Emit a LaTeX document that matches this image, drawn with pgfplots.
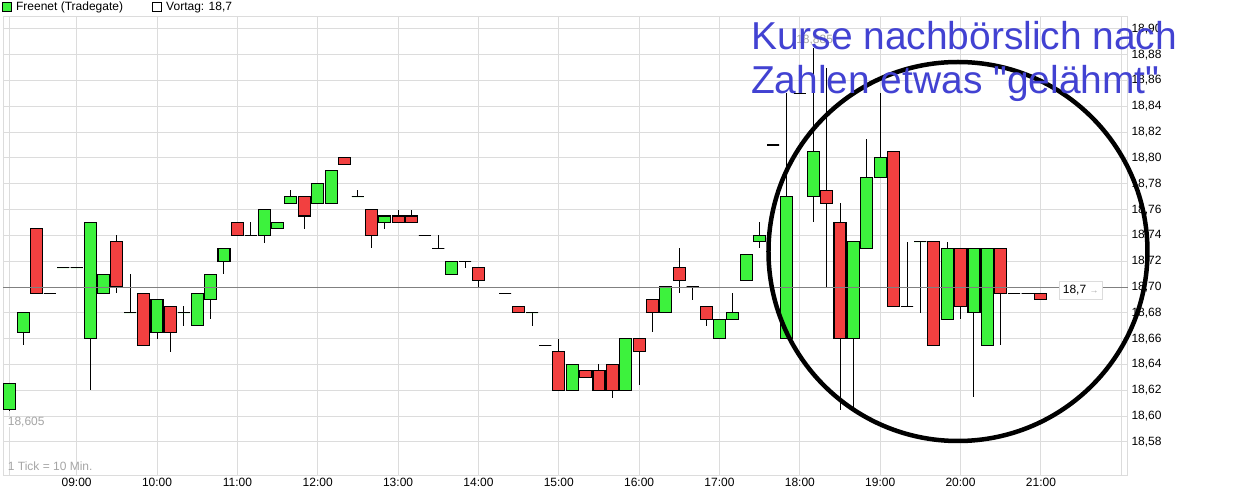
\documentclass[border=0pt]{standalone}
\usepackage{pgfplots}
\pgfplotsset{compat=1.18}
\usepackage{pgfplotstable}
\usepgfplotslibrary{statistics}
\usepackage{fontspec}
\setmainfont{Liberation Sans}
\newfontfamily\annfont{Liberation Sans}[Ligatures=TeXOff]
\definecolor{cgreen}{RGB}{61,242,61}
\definecolor{cred}{RGB}{242,64,64}
\definecolor{gridgray}{RGB}{220,220,220}
\definecolor{refgray}{RGB}{128,128,128}
\definecolor{txtgray}{RGB}{165,165,165}
\definecolor{annblue}{RGB}{66,66,210}

% slot t = 10-minute period, t=0 -> 08:10, t=5 -> 09:00, ..., t=77 -> 21:00
\pgfplotstableread{
t o h l c
0 18.605 18.625 18.604 18.625
1 18.665 18.68 18.655 18.68
2 18.745 18.745 18.695 18.695
3 18.695 18.695 18.695 18.695
4 18.715 18.715 18.715 18.715
5 18.715 18.715 18.715 18.715
6 18.66 18.75 18.62 18.75
7 18.695 18.71 18.695 18.71
8 18.735 18.74 18.695 18.70
9 18.68 18.71 18.68 18.68
10 18.695 18.695 18.655 18.655
11 18.665 18.69 18.66 18.69
12 18.685 18.685 18.65 18.665
13 18.68 18.685 18.67 18.68
14 18.67 18.695 18.67 18.695
15 18.69 18.71 18.675 18.71
16 18.72 18.73 18.71 18.73
17 18.75 18.75 18.74 18.74
18 18.74 18.75 18.74 18.74
19 18.74 18.76 18.734 18.76
20 18.745 18.75 18.745 18.75
21 18.765 18.775 18.765 18.77
22 18.77 18.77 18.745 18.755
23 18.765 18.78 18.765 18.78
24 18.765 18.79 18.765 18.79
25 18.80 18.80 18.795 18.795
26 18.77 18.775 18.77 18.77
27 18.76 18.76 18.73 18.74
28 18.75 18.755 18.745 18.755
29 18.755 18.76 18.75 18.75
30 18.755 18.76 18.75 18.75
31 18.74 18.74 18.74 18.74
32 18.73 18.74 18.73 18.73
33 18.71 18.72 18.71 18.72
34 18.72 18.72 18.715 18.72
35 18.715 18.715 18.70 18.705
37 18.695 18.695 18.695 18.695
38 18.685 18.685 18.68 18.68
39 18.68 18.68 18.67 18.68
40 18.655 18.655 18.655 18.655
41 18.65 18.66 18.62 18.62
42 18.62 18.64 18.62 18.64
43 18.635 18.635 18.63 18.63
44 18.635 18.64 18.62 18.62
45 18.64 18.64 18.614 18.62
46 18.62 18.66 18.62 18.66
47 18.66 18.66 18.624 18.65
48 18.69 18.69 18.665 18.68
49 18.68 18.70 18.68 18.70
50 18.715 18.73 18.695 18.705
51 18.70 18.70 18.69 18.70
52 18.685 18.685 18.67 18.675
53 18.66 18.675 18.66 18.675
54 18.675 18.695 18.675 18.68
55 18.705 18.725 18.705 18.725
56 18.735 18.75 18.73 18.74
57 18.81 18.81 18.81 18.81
58 18.66 18.85 18.66 18.77
59 18.85 18.85 18.85 18.85
60 18.77 18.885 18.75 18.805
61 18.775 18.87 18.70 18.765
62 18.75 18.765 18.605 18.66
63 18.66 18.735 18.604 18.735
64 18.73 18.815 18.73 18.785
65 18.785 18.85 18.785 18.80
66 18.805 18.805 18.685 18.685
67 18.685 18.735 18.685 18.685
68 18.735 18.735 18.68 18.735
69 18.735 18.735 18.655 18.655
70 18.675 18.735 18.675 18.73
71 18.73 18.73 18.675 18.685
72 18.68 18.73 18.615 18.73
73 18.655 18.73 18.655 18.73
74 18.73 18.73 18.655 18.695
75 18.695 18.695 18.695 18.695
76 18.695 18.695 18.695 18.695
77 18.695 18.695 18.69 18.69
}\candles
\pgfplotstablegetrowsof{\candles}
\pgfmathtruncatemacro\lastrow{\pgfplotsretval-1}

\begin{document}
\begin{tikzpicture}
\useasboundingbox (0,0) rectangle (1235pt,500pt);
\begin{axis}[
  clip=false,
  at={(3pt,24pt)}, anchor=south west,
  scale only axis, width=1125pt, height=459pt,
  xmin=-0.5, xmax=83.5, ymin=18.5536, ymax=18.9092,
  axis line style={gridgray, line width=1pt},
  grid=major, major grid style={gridgray, line width=1pt},
  xtick={5,11,...,83},
  xticklabels={09:00,10:00,11:00,12:00,13:00,14:00,15:00,16:00,17:00,18:00,19:00,20:00,21:00,{}},
  extra x ticks={0}, extra x tick labels={}, extra x tick style={grid=major},
  ytick={18.58,18.60,18.62,18.64,18.66,18.68,18.70,18.72,18.74,18.76,18.78,18.80,18.82,18.84,18.86,18.88,18.90},
  scaled y ticks=false,
  yticklabel pos=right,
  y tick label style={/pgf/number format/.cd, fixed, fixed zerofill, precision=2, use comma, 1000 sep={}, assume math mode=true},
  tick label style={font=\fontsize{12}{14}\selectfont, text=black},
  xticklabel style={yshift=1.5pt},
  major tick length=0pt,
  boxplot/draw direction=y,
  candle/.style={solid, draw=black, line width=1.1pt,
    boxplot/whisker extend=0, boxplot/box extend=0.896,
    boxplot/every whisker/.style={black, line width=1pt},
    boxplot/every median/.style={black, line width=1.1pt}},
  legend columns=2,
  legend style={at={(0,1)}, anchor=south west, xshift=-1.3pt, yshift=5pt,
    draw=none, fill=none, inner sep=0pt, nodes={inner sep=0pt},
    font=\fontsize{12}{14}\selectfont,
    /tikz/every odd column/.append style={column sep=4pt},
    /tikz/every even column/.append style={column sep=29pt}},
  legend image code/.code={\draw[#1, line width=0.8pt] (0pt,-4.6pt) rectangle (9.4pt,4.6pt);},
]
\addlegendimage{draw=black, fill=cgreen}
\addlegendentry{Freenet (Tradegate)}
\addlegendimage{draw=black, fill=white}
\addlegendentry{Vortag: 18,7}

\pgfplotsinvokeforeach{0,...,\lastrow}{%
  \pgfplotstablegetelem{#1}{t}\of\candles \let\cndT\pgfplotsretval
  \pgfplotstablegetelem{#1}{o}\of\candles \let\cndO\pgfplotsretval
  \pgfplotstablegetelem{#1}{h}\of\candles \let\cndH\pgfplotsretval
  \pgfplotstablegetelem{#1}{l}\of\candles \let\cndL\pgfplotsretval
  \pgfplotstablegetelem{#1}{c}\of\candles \let\cndC\pgfplotsretval
  \ifdim\cndC pt<\cndO pt
    \def\cndCol{cred}\let\cndBot\cndC \let\cndTop\cndO
  \else
    \def\cndCol{cgreen}\let\cndBot\cndO \let\cndTop\cndC
  \fi
  \edef\doplot{\noexpand\addplot[forget plot, candle,
     boxplot/every box/.style={draw=black, fill=\cndCol, line width=1.1pt},
     boxplot prepared={draw position=\cndT, lower whisker=\cndL,
       lower quartile=\cndBot, median=\cndTop, upper quartile=\cndTop,
       upper whisker=\cndH}] coordinates {};}%
  \doplot
}

% Vortag reference line
\addplot[forget plot, refgray, line width=1pt] coordinates {(-0.5,18.70) (83.5,18.70)};

\node[draw=gridgray, fill=white, inner sep=4pt, font=\fontsize{12}{14}\selectfont]
  at (axis cs:79.97,18.6977) {18,7 \textcolor{txtgray}{\fontsize{9}{9}\selectfont →}};
\node[anchor=west, inner sep=0pt, fill=white, text=txtgray, font=\fontsize{12}{14}\selectfont]
  at (axis cs:-0.15,18.5956) {18,605};
\node[inner sep=0pt, text=txtgray, font=\fontsize{12}{14}\selectfont]
  at (axis cs:60.1,18.891) {18,885};
\node[anchor=west, inner sep=0pt, text=txtgray, font=\fontsize{12}{14}\selectfont]
  at (axis cs:-0.15,18.5608) {1 Tick = 10 Min.};

\draw[black, line width=4.5pt] (rel axis cs:0.84889,0.48911) circle[radius=189.5pt];
\node[anchor=base west, inner sep=0pt, text=annblue, font=\annfont\fontsize{38.9}{44}\selectfont]
  at (rel axis cs:0.66489,0.92963) {Kurse nachbörslich nach};
\node[anchor=base west, inner sep=0pt, text=annblue, font=\annfont\fontsize{38.9}{44}\selectfont]
  at (rel axis cs:0.66489,0.83224) {Zahlen etwas "gelähmt"};
\end{axis}
\end{tikzpicture}
\end{document}
